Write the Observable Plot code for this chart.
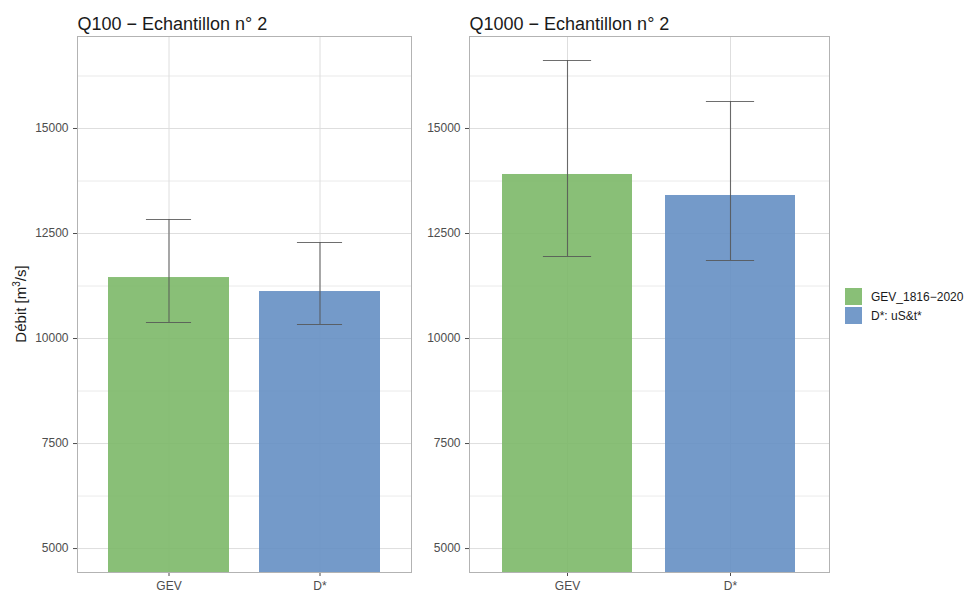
<!DOCTYPE html>
<html>
<head>
<meta charset="utf-8">
<script src="https://cdn.jsdelivr.net/npm/d3@7"></script>
<script src="https://cdn.jsdelivr.net/npm/@observablehq/plot@0.6"></script>
<style>
  body { margin: 0; background: #fff; font-family: "Liberation Sans", Arial, sans-serif; }
  #wrap { position: relative; width: 965px; height: 592px; }
  #p1 { position: absolute; left: 0; top: 0; }
  #p2 { position: absolute; left: 420px; top: 0; }
  #legend { position: absolute; left: 845px; top: 287px; font-size: 12px; color: #1a1a1a; }
  .li { display: flex; align-items: center; height: 19px; }
  .sw { width: 17px; height: 17px; margin-right: 9px; }
</style>
</head>
<body>
<div id="wrap">
  <div id="p1"></div>
  <div id="p2"></div>
  <div id="legend"></div>
</div>
<script>
// ---- data ----
const categories = ["GEV", "D*"];
const seriesNames = ["GEV_1816\u22122020", "D*: uS&t*"];
const colors = ["#7cb868", "#658fc3"];
const panelTitles = ["Q100 \u2212 Echantillon n\u00b0 2", "Q1000 \u2212 Echantillon n\u00b0 2"];
const q100Values = [11452, 11119];
const q100Lower = [10381, 10333];
const q100Upper = [12833, 12286];
const q1000Values = [13905, 13405];
const q1000Lower = [11952, 11857];
const q1000Upper = [16619, 15643];
const yDomain = [4430, 17190];
const yTicks = [5000, 7500, 10000, 12500, 15000];
const yMinor = [6250, 8750, 11250, 13750, 16250];

function panel(title, values, lower, upper, opts) {
  const data = categories.map((c, i) => ({cat: c, v: values[i], lo: lower[i], hi: upper[i], color: colors[i]}));
  const pw = opts.width - opts.marginLeft - opts.marginRight;
  const step = pw / 2.2;
  const capInset = 0.25 * step;
  return Plot.plot({
    width: opts.width,
    height: 592,
    marginLeft: opts.marginLeft,
    marginRight: opts.marginRight,
    marginTop: 36,
    marginBottom: 20,
    style: {fontFamily: "Liberation Sans, Arial, sans-serif", fontSize: "12px", color: "#4d4d4d", background: "white"},
    x: {domain: categories, paddingInner: 0.2, paddingOuter: 0.2, label: null, tickSize: 4},
    y: {domain: yDomain, ticks: yTicks, label: null, tickSize: 4, tickFormat: d => String(d)},
    marks: [
      Plot.ruleY(yMinor, {stroke: "#e4e4e4", strokeWidth: 0.8}),
      Plot.ruleY(yTicks, {stroke: "#dedede", strokeWidth: 1}),
      Plot.ruleX(categories, {stroke: "#dedede", strokeWidth: 1}),
      Plot.barY(data, {x: "cat", y1: yDomain[0], y2: "v", fill: "color", fillOpacity: 0.9}),
      Plot.ruleX(data, {x: "cat", y1: "lo", y2: "hi", stroke: "#555", strokeOpacity: 0.85, strokeWidth: 1.1}),
      Plot.tickY(data, {x: "cat", y: "hi", stroke: "#555", strokeOpacity: 0.85, strokeWidth: 1.1, insetLeft: capInset, insetRight: capInset}),
      Plot.tickY(data, {x: "cat", y: "lo", stroke: "#555", strokeOpacity: 0.85, strokeWidth: 1.1, insetLeft: capInset, insetRight: capInset}),
      Plot.frame({stroke: "#b3b3b3", strokeWidth: 1}),
      Plot.text([title], {frameAnchor: "top-left", dy: -19, text: d => d, fontSize: 18, fill: "#1a1a1a", textAnchor: "start"})
    ]
  });
}

const s1 = panel(panelTitles[0], q100Values, q100Lower, q100Upper, {width: 415, marginLeft: 77, marginRight: 4});
const s2 = panel(panelTitles[1], q1000Values, q1000Lower, q1000Upper, {width: 415, marginLeft: 49, marginRight: 6});
document.getElementById("p1").appendChild(s1);
document.getElementById("p2").appendChild(s2);

// y axis title with superscript
const svg1 = d3.select(s1);
const t = svg1.append("text")
  .attr("transform", "translate(26,304) rotate(-90)")
  .attr("text-anchor", "middle")
  .attr("font-size", 15)
  .attr("fill", "#1a1a1a")
  .attr("font-family", "Liberation Sans, Arial, sans-serif");
t.append("tspan").text("D\u00e9bit [m");
t.append("tspan").attr("dy", -6).attr("font-size", 10).text("3");
t.append("tspan").attr("dy", 6).text("/s]");

// legend
const lg = d3.select("#legend");
seriesNames.forEach((n, i) => {
  const row = lg.append("div").attr("class", "li");
  row.append("div").attr("class", "sw").style("background", colors[i]).style("opacity", 0.9);
  row.append("span").text(n);
});
</script>
</body>
</html>
